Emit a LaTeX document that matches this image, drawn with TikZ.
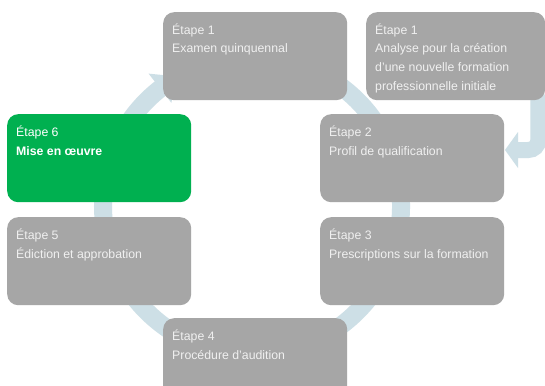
\documentclass[tikz,border=0pt]{standalone}
\usepackage{fontspec}
\setmainfont{Liberation Sans}
\definecolor{boxgray}{RGB}{166,166,166}
\definecolor{boxgreen}{RGB}{0,176,80}
\definecolor{ringblue}{RGB}{205,223,230}
\definecolor{txtlight}{RGB}{240,240,240}
\pgfdeclarelayer{bg}
\pgfsetlayers{bg,main}
\begin{document}
\begin{tikzpicture}[x=1pt,y=-1pt,
  stepbox/.style={rectangle, rounded corners=11pt, fill=boxgray, draw=none, anchor=north west, inner sep=0pt, minimum width=184pt, minimum height=88pt},
  greenbox/.style={stepbox, fill=boxgreen},
  steptext/.style={anchor=north west, inner sep=0pt, align=left, text=txtlight, font=\fontsize{12.3}{18.8}\selectfont},
  greentext/.style={steptext, text=white},
  ringline/.style={draw=ringblue, line width=18pt},
  bentline/.style={draw=ringblue, line width=16pt, rounded corners=10pt},
  headfill/.style={fill=ringblue, draw=none}]
\clip (0,0) rectangle (545,385);
% boxes
\node[stepbox] (b1) at (163,12) {};
\node[stepbox, minimum width=179pt] (b0) at (366,12) {};
\node[greenbox] (b6) at (7,114) {};
\node[stepbox] (b2) at (320,114) {};
\node[stepbox] (b5) at (7,217) {};
\node[stepbox] (b3) at (320,217) {};
\node[stepbox] (b4) at (163,318) {};
\begin{pgfonlayer}{bg}
\fill[white] (0,0) rectangle (545,385);
% cycle ring
\coordinate (c) at (252,206);
\draw[ringline] ([shift={(-100:149)}]c) arc[start angle=-100, end angle=233, radius=149];
\fill[headfill] ([shift={(232:131)}]c) -- ([shift={(232:168)}]c) -- ([shift={(240:149.5)}]c) -- cycle;
% bent arrow from analysis box to step 2
\coordinate (bendtop) at ([shift={(-7,-6)}]b0.south east);
\coordinate (bendhead) at (518,150);
\draw[bentline] (bendtop) |- (bendhead);
\fill[headfill] (518,132) -- (505,150) -- (518,168) -- cycle;
\end{pgfonlayer}
% texts
\node[steptext] (t1) at ([shift={(9,10)}]b1.north west) {\rule{0pt}{12pt}Étape 1\\Examen quinquennal};
\node[steptext] (t0) at ([shift={(9,10)}]b0.north west) {\rule{0pt}{12pt}Étape 1\\Analyse pour la création\\d’une nouvelle formation\\professionnelle initiale};
\node[greentext] (t6) at ([shift={(9,10)}]b6.north west) {\rule{0pt}{12pt}Étape 6\\\textbf{Mise en œuvre}};
\node[steptext] (t2) at ([shift={(9,10)}]b2.north west) {\rule{0pt}{12pt}Étape 2\\Profil de qualification};
\node[steptext] (t5) at ([shift={(9,10)}]b5.north west) {\rule{0pt}{12pt}Étape 5\\Édiction et approbation};
\node[steptext] (t3) at ([shift={(9,10)}]b3.north west) {\rule{0pt}{12pt}Étape 3\\Prescriptions sur la formation};
\node[steptext] (t4) at ([shift={(9,10)}]b4.north west) {\rule{0pt}{12pt}Étape 4\\Procédure d’audition};
\end{tikzpicture}
\end{document}
